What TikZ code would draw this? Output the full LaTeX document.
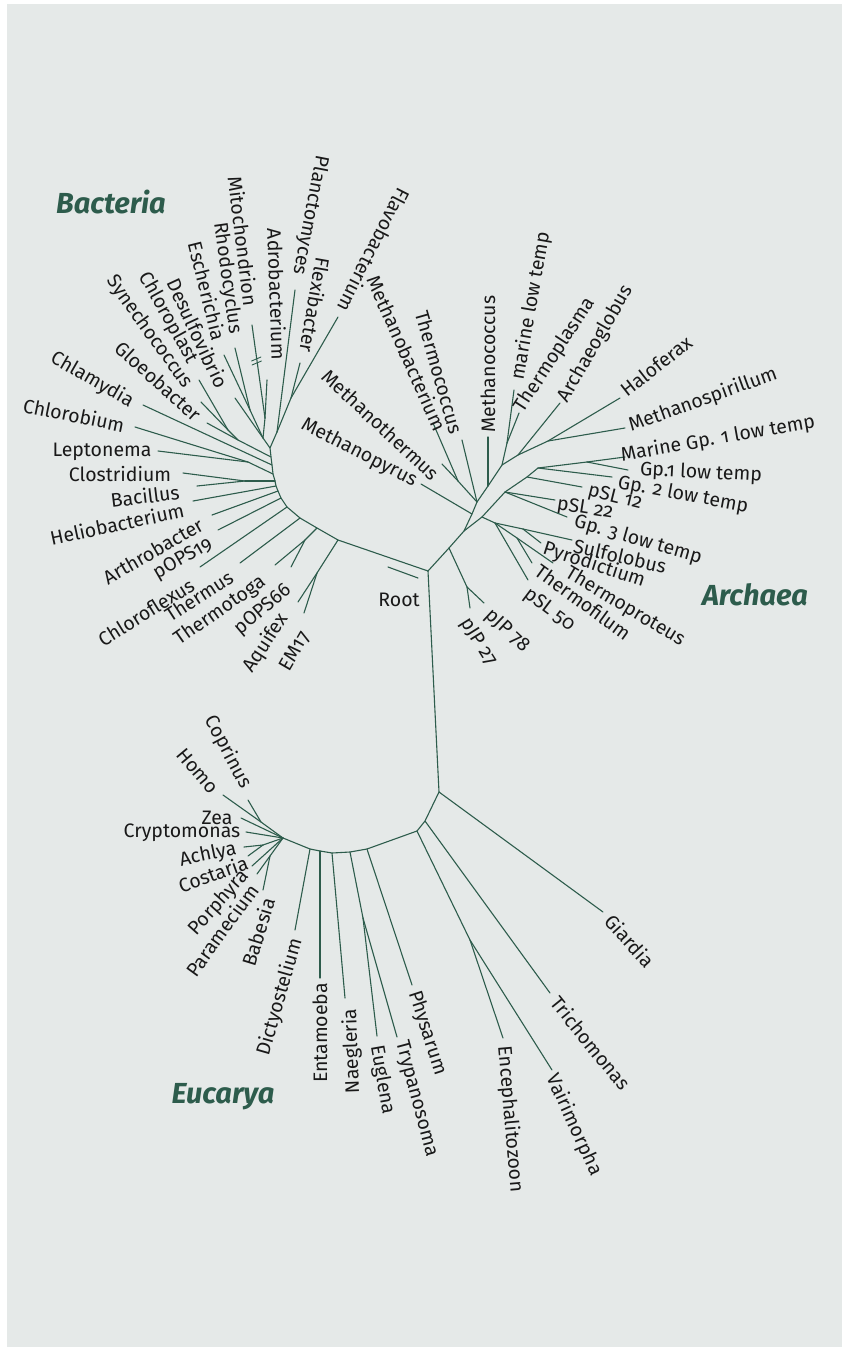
\documentclass[tikz,border=0pt]{standalone}
\usepackage{fontspec}
\setmainfont{Fira Sans}[Numbers=OldStyle]
\definecolor{bg}{RGB}{229,233,232}
\definecolor{brc}{RGB}{45,92,76}
\definecolor{ink}{RGB}{25,25,25}
\tikzset{
  brline/.style={draw=brc,line width=1.1pt,line cap=round,line join=round},
  leaflab/.style={font=\fontsize{19.5}{21}\selectfont,text=ink,inner sep=0pt},
  domlab/.style={font=\fontsize{29}{31}\selectfont\bfseries\itshape,text=brc,inner sep=0pt},
}
% #1 parent, #2 leaf name, #3 leaf position, #4 text angle, #5 text centre, #6 text
\newcommand\lf[6]{\coordinate (#2) at (#3); \draw[brline] (#1) -- (#2);
  \node[leaflab,rotate=#4] (#2t) at (#5) {#6};}
\begin{document}
\begin{tikzpicture}[x=1pt,y=-1pt]
\useasboundingbox (0,0) rectangle (842,1347);
\fill[white] (0,0) rectangle (842,1347);
\fill[bg] (7,4) rectangle (842,1347);

% ---------- internal points ----------
\coordinate (R) at (428,571);
% bacteria backbone
\coordinate (b1) at (338,540);
\coordinate (b2) at (317,528);
\coordinate (b3) at (300,518);
\coordinate (b4) at (287,507);
\coordinate (b5) at (281,498);
\coordinate (b6) at (278,491);
\coordinate (b7) at (276,486);
\coordinate (b8) at (275,481);
\coordinate (b9) at (273,474);
\coordinate (b10) at (272,465);
\coordinate (b11) at (271,457);
\coordinate (b12) at (270,448);
\coordinate (b13) at (277,432);
\coordinate (AQ) at (317,573);
\coordinate (TT) at (305,540);
\coordinate (CB) at (245,481);
\coordinate (CL) at (248,462);
\coordinate (CY1) at (228,430);
\coordinate (CY0) at (238,440);
\coordinate (MA) at (265,418);
\coordinate (RE) at (250,410);
\coordinate (P0) at (263,438);
\coordinate (FL0) at (291,398);
% archaea
\coordinate (a0) at (449,548);
\coordinate (a1) at (464,531);
\coordinate (pJ) at (467,587);
\coordinate (e1) at (472,514);
\coordinate (e2) at (477,502);
\coordinate (e3) at (488,486);
\coordinate (e5) at (502,465);
\coordinate (e6) at (518,455);
\coordinate (H1) at (548,441);
\coordinate (MB) at (458,481);
\coordinate (T1) at (507,443);
\coordinate (c1) at (482,517);
\coordinate (c2) at (505,492);
\coordinate (c3) at (527,477);
\coordinate (c4) at (538,468);
\coordinate (G1) at (587,462);
\coordinate (s0) at (495,523);
\coordinate (s1) at (523,529);
\coordinate (s2) at (517,538);
% eucarya
\coordinate (E0) at (439,792);
\coordinate (E1) at (425,821);
\coordinate (E2) at (417,831);
\coordinate (k1) at (367,849);
\coordinate (k2) at (350,852);
\coordinate (k3) at (332,853);
\coordinate (k4) at (320,851);
\coordinate (k5) at (310,849);
\coordinate (k6) at (283,838);
\coordinate (MS) at (470,940);
\coordinate (ET) at (363,918);
\coordinate (HC) at (261,822);
\coordinate (AC) at (263,845);
\coordinate (PB) at (270,856);

% ---------- trunks ----------
\draw[brline] (R) -- (b1) -- (b2) -- (b3) -- (b4) -- (b5) -- (b6) -- (b7) -- (b8)
  -- (b9) -- (b10) -- (b11) -- (b12) -- (b13);
\draw[brline] (R) -- (a0) -- (a1);
\draw[brline] (a1) -- (e1) -- (e2) -- (e3) -- (e5) -- (e6) -- (H1);
\draw[brline] (a1) -- (c1) -- (c2) -- (c3) -- (c4) -- (G1);
\draw[brline] (R) -- (E0) -- (E1) -- (E2) -- (k1) -- (k2) -- (k3) -- (k4) -- (k5) -- (k6);
% root mark
\coordinate (rm1) at (388,567);
\coordinate (rm2) at (418,578);
\draw[brline] (rm1) -- (rm2);
\node[leaflab] (rootlabel) at (399,600) {Root};

% ---------- Bacteria ----------
\draw[brline] (b1) -- (AQ);
\lf{AQ}{LAquifex}{298,602}{57}{266,643}{Aquifex}
\lf{AQ}{LEM}{304,613}{60}{295,651}{EM17}
\draw[brline] (b2) -- (TT);
\lf{TT}{LThermotoga}{275,565}{35}{220,611}{Thermotoga}
\lf{TT}{LpOPSb}{291,567}{40}{263,610}{pOPS66}
\lf{b3}{LThermus}{240,563}{33}{199,596}{Thermus}
\lf{b4}{LChloroflexus}{200,567}{32}{146,612}{Chloroflexus}
\lf{b5}{LpOPSa}{218,530}{30}{183,559}{pOPS19}
\lf{b6}{LArthrobacter}{212,515}{30}{153,551}{Arthrobacter}
\lf{b7}{LHelio}{193,501}{12}{117,524}{Heliobacterium}
\draw[brline] (b8) -- (CB);
\lf{CB}{LClostridium}{183,473}{0}{120,474}{Clostridium}
\lf{CB}{LBacillus}{197,486}{7}{145,496}{Bacillus}
\draw[brline] (b9) -- (CL);
\lf{CL}{LChlorobium}{135,427}{-11.5}{74,415}{Chlorobium}
\lf{CL}{LLeptonema}{158,451}{0}{102,452}{Leptonema}
\lf{b10}{LChlamydia}{143,405}{-30}{92,380}{Chlamydia}
\draw[brline] (b11) -- (CY0) -- (CY1);
\lf{CY1}{LChloroplast}{199,380}{-61}{168,318}{Chloroplast}
\lf{CY1}{LSynecho}{201,402}{-54.5}{149,332}{Synechococcus}
\lf{CY0}{LGloeo}{207,423}{-42}{158,381}{Gloeobacter}
\draw[brline] (b12) -- (P0);
\draw[brline] (P0) -- (MA);
\draw[brline] (P0) -- (RE);
\lf{P0}{LDesulfo}{235,398}{-65}{198,333}{Desulfovibrio}
\lf{RE}{LEscherichia}{224,355}{-76}{207,291}{Escherichia}
\lf{RE}{LRhodocyclus}{235,348}{-82}{227,278}{Rhodocyclus}
\lf{MA}{LMito}{252,325}{-83}{243,241}{Mitochondrion}
\lf{MA}{LAdro}{267,380}{-88}{277,294}{Adrobacterium}
\lf{b13}{LPlancto}{295,290}{-101}{310,215}{Planctomyces}
\draw[brline] (b13) -- (FL0);
\lf{FL0}{LFlexi}{300,363}{-100}{315,305}{Flexibacter}
\lf{FL0}{LFlavo}{338,317}{-117}{374,250}{Flavobacterium}
% mitochondrion double tick
\draw[brline,line width=0.9pt] (251.5,361) -- (261,357);
\draw[brline,line width=0.9pt] (252,365) -- (261.5,361);

% ---------- Archaea ----------
\draw[brline] (a0) -- (pJ);
\lf{pJ}{LpJPa}{484,603}{-43}{507,631}{pJP 78}
\lf{pJ}{LpJPb}{470,608}{-58}{478,642}{pJP 27}
\lf{e1}{LMpyrus}{421,484}{-27}{359,453}{Methanopyrus}
\draw[brline] (e2) -- (MB);
\lf{MB}{LMbact}{433,423}{-66}{407,353}{Methanobacterium}
\lf{MB}{LMtherm}{442,464}{-43}{381,425}{Methanothermus}
\lf{e2}{LTcoccus}{462,440}{-74}{439,372}{Thermococcus}
\lf{e3}{LMcoccus}{488,437}{90}{488,364}{Methanococcus}
\draw[brline] (e5) -- (T1);
\lf{T1}{Lmarine}{514,390}{80}{531,306}{marine low temp}
\lf{T1}{LTplasma}{519,413}{57}{555,355}{Thermoplasma}
\lf{e6}{LArchaeo}{560,403}{60}{596,344}{Archaeoglobus}
\lf{H1}{LHalo}{620,398}{38}{656,366}{Haloferax}
\lf{H1}{LMspir}{625,428}{20}{703,400}{Methanospirillum}
\lf{G1}{LMGa}{625,457}{10}{718,439}{Marine Gp. 1 low temp}
\lf{G1}{LGa}{628,470}{-3}{701,473}{Gp.1 low temp}
\lf{c4}{LGb}{612,477}{-10.5}{683,495}{Gp. 2 low temp}
\lf{c3}{LpSLa}{582,487}{-14}{615,498}{pSL 12}
\lf{c2}{LpSLb}{555,500}{-9}{585,509}{pSL 22}
\lf{c2}{LGc}{567,517}{-16}{638,540}{Gp. 3 low temp}
\draw[brline] (c1) -- (s0);
\draw[brline] (s0) -- (s1);
\draw[brline] (s0) -- (s2);
\lf{s1}{LSulfo}{572,540}{-13}{620,556}{Sulfolobus}
\lf{s1}{LPyro}{541,543}{-18}{594,565}{Pyrodictium}
\lf{s2}{LTproteus}{553,563}{-31}{625,607}{Thermoproteus}
\lf{s2}{LTfilum}{532,563}{-36}{583,602}{Thermofilum}
\lf{s0}{LpSLc}{528,580}{-37}{549,610}{pSL 50}

% ---------- Eucarya ----------
\lf{E0}{LGiardia}{603,912}{-48}{630,941}{Giardia}
\lf{E1}{LTricho}{550,993}{-51}{591,1043}{Trichomonas}
\draw[brline] (E2) -- (MS);
\lf{MS}{LEnceph}{503,1038}{-85}{510,1119}{Encephalitozoon}
\lf{MS}{LVairi}{552,1070}{-65.5}{574,1125}{Vairimorpha}
\lf{k1}{LPhys}{412,985}{-72}{427,1033}{Physarum}
\draw[brline] (k2) -- (ET);
\lf{ET}{LEuglena}{377,1036}{-80}{382,1080}{Euglena}
\lf{ET}{LTrypano}{397,1037}{-75}{416,1099}{Trypanosoma}
\lf{k3}{LNaeg}{345,998}{92}{352,1051}{Naegleria}
\lf{k4}{LEntam}{320,978}{90}{320,1033}{Entamoeba}
\lf{k5}{LDicty}{295,930}{74}{280,997}{Dictyostelium}
\draw[brline] (k6) -- (HC);
\lf{HC}{LHomo}{223,795}{-50}{198,771}{Homo}
\lf{HC}{LCoprinus}{248,800}{-62}{228,752}{Coprinus}
\lf{k6}{LZea}{241,818}{0}{217,818}{Zea}
\lf{k6}{LCrypto}{246,832}{0}{182,833}{Cryptomonas}
\draw[brline] (k6) -- (AC);
\lf{AC}{LAchlya}{244,847}{12}{208,855}{Achlya}
\lf{AC}{LCostaria}{248,856}{20}{213,874}{Costaria}
\lf{k6}{LPorphyra}{252,866}{48}{219,903}{Porphyra}
\draw[brline] (k6) -- (PB);
\lf{PB}{LParam}{257,874}{54}{222,930}{Paramecium}
\lf{PB}{LBabesia}{263,890}{73}{258,932}{Babesia}

% ---------- domain labels ----------
\node[domlab] (bact) at (111,202) {Bacteria};
\node[domlab] (arch) at (755,595) {Archaea};
\node[domlab] (euca) at (223,1097) {Eucarya};
\end{tikzpicture}
\end{document}
